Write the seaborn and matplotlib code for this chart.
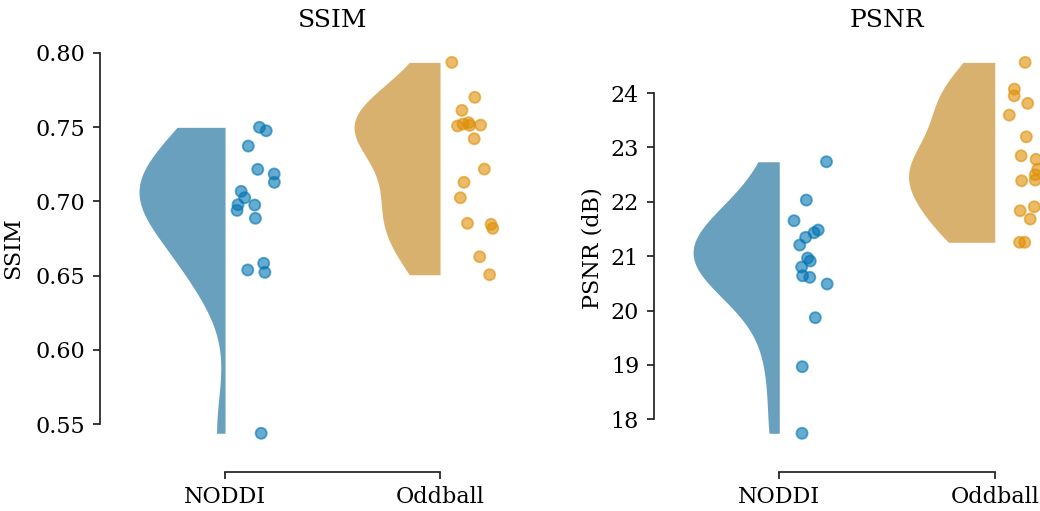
import numpy as np
import pandas as pd
import matplotlib.pyplot as plt
import seaborn as sns

groups = ["NODDI", "Oddball"]
colors = sns.color_palette("colorblind", 2)

ssim_noddi = [0.7498, 0.7475, 0.7372, 0.7215, 0.7184, 0.7128, 0.7067, 0.7024,
              0.6977, 0.6975, 0.6939, 0.6886, 0.6583, 0.6538, 0.6522, 0.5439]
ssim_oddball = [0.7935, 0.7700, 0.7612, 0.7529, 0.7520, 0.7513, 0.7511, 0.7507,
                0.7421, 0.7217, 0.7128, 0.7024, 0.6852, 0.6845, 0.6818, 0.6627,
                0.6506]

psnr_noddi = [22.737, 22.032, 21.652, 21.481, 21.431, 21.346, 21.205, 20.966,
              20.911, 20.800, 20.640, 20.611, 20.488, 19.868, 18.967, 17.742]
psnr_oddball = [24.565, 24.074, 23.950, 23.811, 23.595, 23.196, 22.847, 22.781,
                22.597, 22.498, 22.400, 22.387, 21.909, 21.836, 21.683, 21.255,
                21.255]


def make_df(a, b):
    return pd.DataFrame({
        "method": [groups[0]] * len(a) + [groups[1]] * len(b),
        "value": list(a) + list(b),
    })


def half_raincloud(ax, df):
    # violin, cut down to its left half
    n0 = len(ax.collections)
    sns.violinplot(data=df, x="method", y="value", hue="method", order=groups,
                   hue_order=groups, palette=colors, cut=0, inner=None,
                   density_norm="width", width=0.8, linewidth=0,
                   legend=False, ax=ax)
    for coll in ax.collections[n0:]:
        coll.set_alpha(0.65)
        coll.set_linewidth(0)
        for path in coll.get_paths():
            v = path.vertices
            center = (v[:, 0].min() + v[:, 0].max()) / 2
            v[:, 0] = np.minimum(v[:, 0], center)

    # jittered points, moved to the right of the violin
    n1 = len(ax.collections)
    sns.stripplot(data=df, x="method", y="value", hue="method", order=groups,
                  hue_order=groups, palette=colors, size=8, alpha=0.6,
                  jitter=0.1, linewidth=1.3, legend=False, ax=ax)
    for coll in ax.collections[n1:]:
        offs = coll.get_offsets()
        offs[:, 0] += 0.15
        coll.set_offsets(offs)
        coll.set_edgecolor(coll.get_facecolor())
    ax.set_xlim(-0.5, 1.5)


np.random.seed(3)
sns.set_theme(style="ticks")
plt.rcParams["font.family"] = ["DejaVu Serif"]
plt.rcParams["text.color"] = "black"
plt.rcParams["axes.labelcolor"] = "black"
plt.rcParams["axes.edgecolor"] = "#222222"
plt.rcParams["xtick.color"] = "#222222"
plt.rcParams["ytick.color"] = "#222222"
plt.rcParams["xtick.labelcolor"] = "black"
plt.rcParams["ytick.labelcolor"] = "black"
plt.rcParams["xtick.labelsize"] = 16
plt.rcParams["ytick.labelsize"] = 16
plt.rcParams["axes.labelsize"] = 16
plt.rcParams["axes.titlesize"] = 18
plt.rcParams["xtick.major.size"] = 5
plt.rcParams["ytick.major.size"] = 5
plt.rcParams["xtick.major.pad"] = 5
plt.rcParams["ytick.major.pad"] = 5.5

fig = plt.figure(figsize=(10.4, 5.11), dpi=100)
ax1 = fig.add_axes([0.1130, 0.1158, 0.4135, 0.7984])
ax2 = fig.add_axes([0.6457, 0.1158, 0.4144, 0.7984])

half_raincloud(ax1, make_df(ssim_noddi, ssim_oddball))
ax1.set_title("SSIM", pad=12)
ax1.set_ylabel("SSIM", labelpad=8)
ax1.set_xlabel("")

half_raincloud(ax2, make_df(psnr_noddi, psnr_oddball))
ax2.set_title("PSNR", pad=12)
ax2.set_ylabel("PSNR (dB)", labelpad=5)
ax2.set_xlabel("")

for ax in (ax1, ax2):
    sns.despine(ax=ax, offset={"left": 12.8, "bottom": 14.3}, trim=True)

fig.savefig("out.png", dpi=100)
